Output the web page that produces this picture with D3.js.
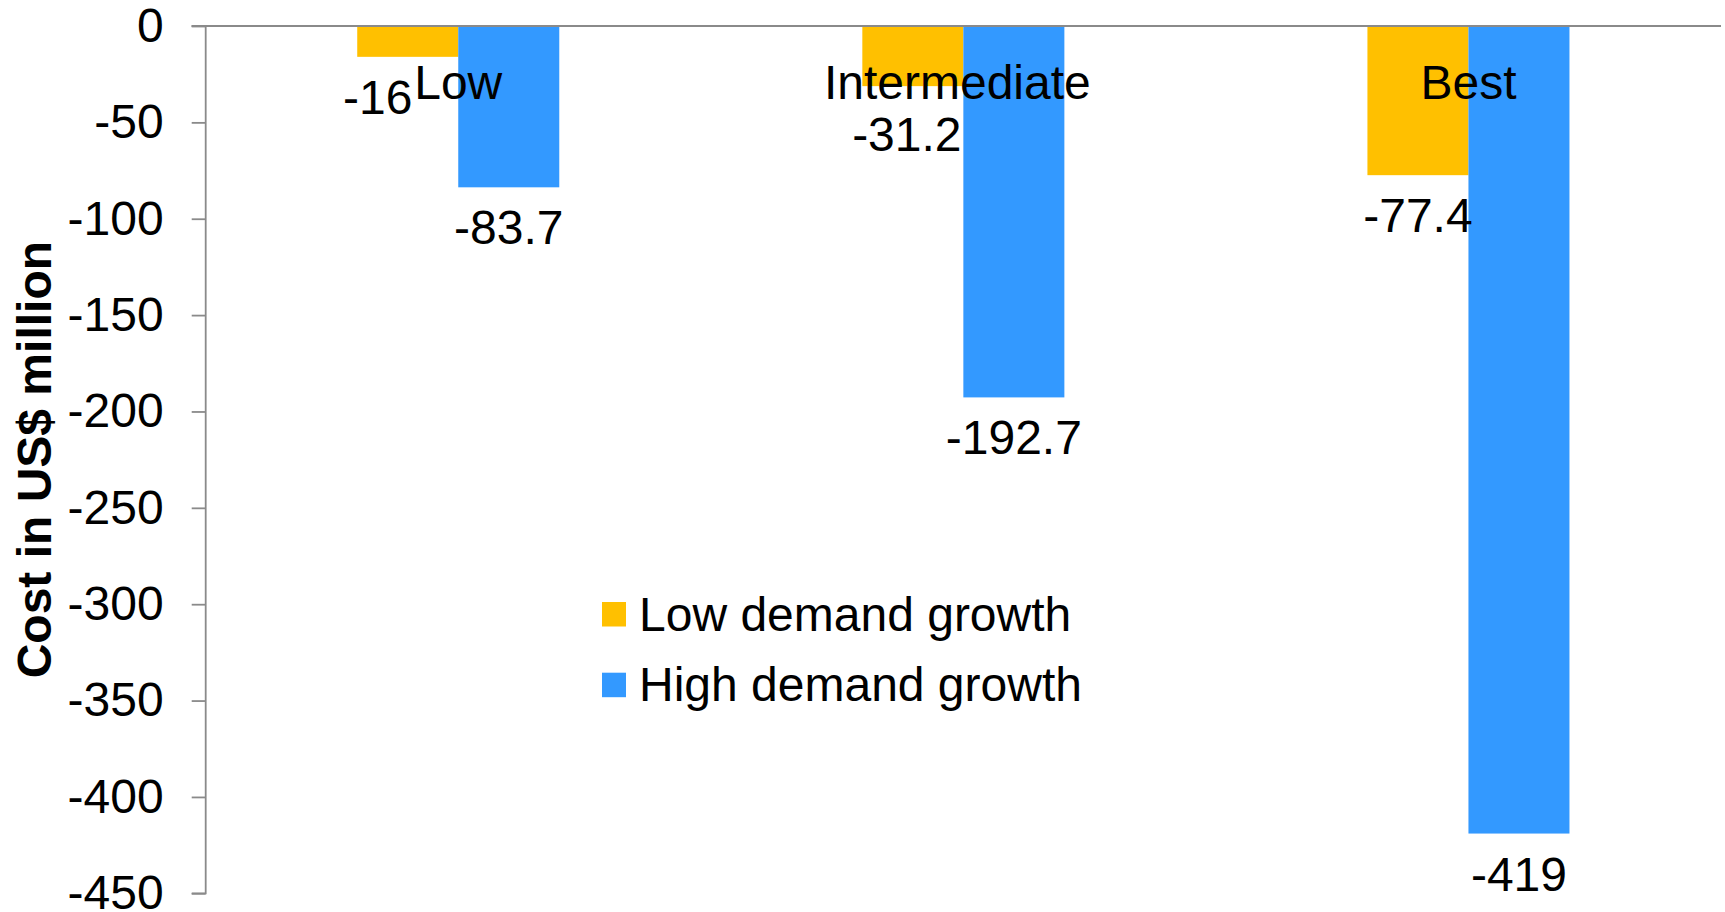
<!DOCTYPE html>
<html>
<head>
<meta charset="utf-8">
<script src="https://cdn.jsdelivr.net/npm/d3@7"></script>
<style>
  html, body { margin: 0; padding: 0; background: #ffffff; }
  svg { display: block; }
  text { font-family: "Liberation Sans", Arial, sans-serif; fill: #000; }
</style>
</head>
<body>
<svg id="chart" width="1725" height="912"></svg>
<script>
// Scenario categories and cost savings (US$ million)
const categories = ["Low", "Intermediate", "Best"];
const seriesNames = ["Low demand growth", "High demand growth"];
const lowDemand = [-16, -31.2, -77.4];
const highDemand = [-83.7, -192.7, -419];
const yTicks = [0, -50, -100, -150, -200, -250, -300, -350, -400, -450];
const axisTitle = "Cost in US$ million";

const colors = { "Low demand growth": "#FFC000", "High demand growth": "#3399FF" };

const rows = categories.map((c, i) => ({
  category: c,
  values: [
    { series: seriesNames[0], value: lowDemand[i] },
    { series: seriesNames[1], value: highDemand[i] }
  ]
}));

const svg = d3.select("#chart");
const plot = { left: 205.7, right: 1721, top: 26, bottom: 893.3 };
const fontSize = 48;

const x0 = d3.scaleBand().domain(categories).range([plot.left, plot.right]).padding(0);
const x1 = d3.scaleBand().domain(seriesNames).range([0, x0.bandwidth()])
  .paddingInner(0).paddingOuter(1.5);
const y = d3.scaleLinear().domain([-450, 0]).range([plot.bottom, plot.top]);

// Bars
const groups = svg.append("g").selectAll("g").data(rows).join("g")
  .attr("transform", d => `translate(${x0(d.category)},0)`);

groups.selectAll("rect").data(d => d.values).join("rect")
  .attr("x", d => x1(d.series))
  .attr("y", y(0))
  .attr("width", x1.bandwidth())
  .attr("height", d => y(d.value) - y(0))
  .attr("fill", d => colors[d.series]);

// Value labels below the bar ends (a few nudged to avoid overlaps)
const nudge = { "Low|Low demand growth": [-30, 0], "Intermediate|Low demand growth": [-6, 7.5] };
groups.selectAll("text.value").data(d => d.values.map(v => ({ ...v, category: d.category })))
  .join("text")
  .attr("class", "value")
  .attr("text-anchor", "middle")
  .attr("font-size", fontSize)
  .attr("x", d => x1(d.series) + x1.bandwidth() / 2 + (nudge[d.category + "|" + d.series] || [0, 0])[0])
  .attr("y", d => y(d.value) + 57 + (nudge[d.category + "|" + d.series] || [0, 0])[1])
  .text(d => String(d.value));

// Y axis
const yAxis = d3.axisLeft(y).tickValues(yTicks).tickSize(14).tickPadding(0)
  .tickFormat(d => String(d));
const yg = svg.append("g").attr("transform", `translate(${plot.left},0)`).call(yAxis);
yg.select(".domain").attr("stroke", "#8a8a8a").attr("stroke-width", 1.8)
  .attr("d", `M-14,${plot.top}H0V${plot.bottom}H-14`);
yg.selectAll(".tick line").attr("stroke", "#8a8a8a").attr("stroke-width", 1.8);
yg.selectAll(".tick text")
  .attr("x", -42)
  .attr("dy", "0.32em")
  .attr("font-size", fontSize)
  .attr("font-family", "'Liberation Sans', Arial, sans-serif")
  .attr("fill", "#000");

// Category axis along zero
svg.append("line")
  .attr("x1", plot.left - 14).attr("x2", plot.right)
  .attr("y1", y(0)).attr("y2", y(0))
  .attr("stroke", "#8a8a8a").attr("stroke-width", 1.8);

// Category labels
const catNudge = { "Intermediate": -6 };
svg.append("g").selectAll("text").data(categories).join("text")
  .attr("text-anchor", "middle")
  .attr("font-size", fontSize)
  .attr("x", d => x0(d) + x0.bandwidth() / 2 + (catNudge[d] || 0))
  .attr("y", 98.5)
  .text(d => d);

// Axis title
svg.append("text")
  .attr("transform", `translate(51,${(plot.top + plot.bottom) / 2}) rotate(-90)`)
  .attr("text-anchor", "middle")
  .attr("font-size", fontSize)
  .attr("font-weight", "bold")
  .text(axisTitle);

// Legend
const legend = svg.append("g").attr("transform", "translate(602,602)");
const items = legend.selectAll("g").data(seriesNames).join("g")
  .attr("transform", (d, i) => `translate(0,${i * 70.7})`);
items.append("rect").attr("width", 24).attr("height", 24.5).attr("fill", d => colors[d]);
items.append("text").attr("x", 37).attr("y", 28.7).attr("font-size", fontSize).text(d => d);
</script>
</body>
</html>
